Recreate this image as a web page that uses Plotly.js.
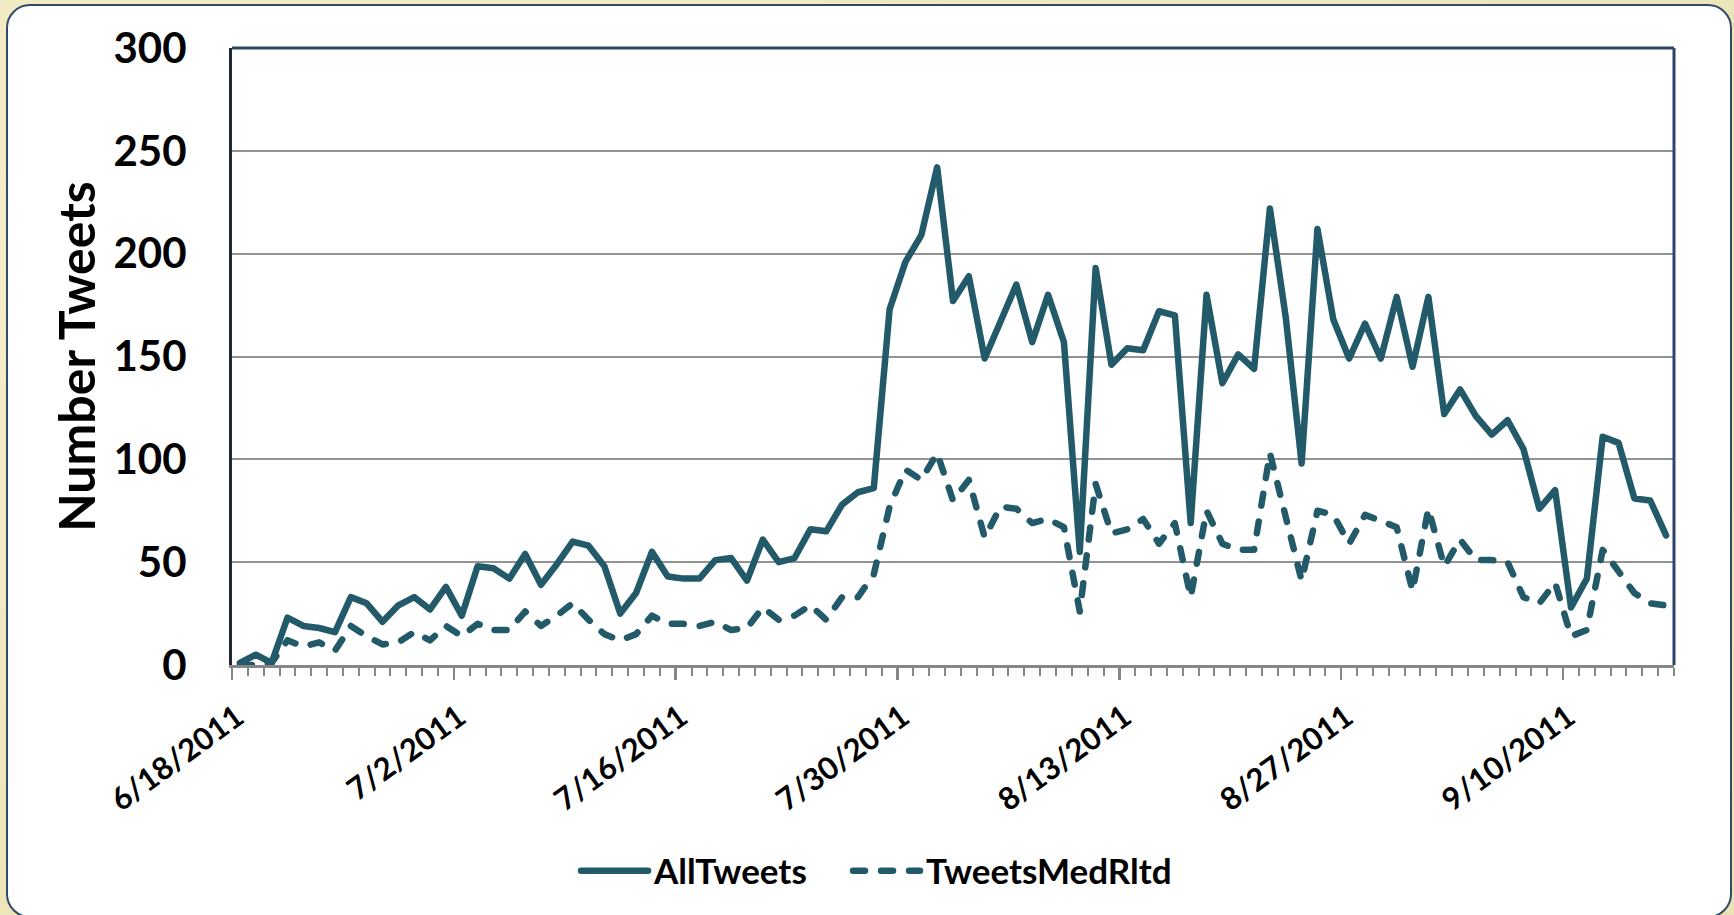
<!DOCTYPE html>
<html>
<head>
<meta charset="utf-8">
<script src="https://cdn.plot.ly/plotly-3.0.1.min.js"></script>
<style>
  html, body { margin: 0; padding: 0; }
  body {
    width: 1734px; height: 915px; overflow: hidden; position: relative;
    background: radial-gradient(ellipse at 20% 30%, #f6f0cc 0%, #efe7bd 55%, #ebe2b6 100%);
  }
  #card {
    position: absolute; left: 6px; top: 4px; width: 1726px; height: 914px;
    box-sizing: border-box; background: #ffffff;
    border: 2.5px solid #2f4a6d; border-radius: 24px;
  }
  #chart { position: absolute; left: 0; top: 0; width: 1734px; height: 915px; }
</style>
</head>
<body>
<div id="card"></div>
<div id="chart"></div>
<script>
// Daily tweet counts, one value per day starting 6/18/2011
const startDate = '2011-06-18';
const endDate = '2011-09-17';

const allTweets = [
  1, 5, 1, 23, 19, 18, 16, 33, 30, 21, 29, 33, 27, 38,
  24, 48, 47, 42, 54, 39, 49, 60, 58, 48, 25, 35, 55, 43,
  42, 42, 51, 52, 41, 61, 50, 52, 66, 65, 78, 84, 86, 173,
  196, 209, 242, 177, 189, 149, 167, 185, 157, 180, 157, 55, 193, 146,
  154, 153, 172, 170, 69, 180, 137, 151, 144, 222, 169, 98, 212, 168,
  149, 166, 149, 179, 145, 179, 122, 134, 121, 112, 119, 105, 76, 85,
  28, 42, 111, 108, 81, 80, 63
];

const tweetsMedRltd = [
  0, 0, 1, 12, 9, 11, 7, 19, 14, 10, 11, 16, 12, 19,
  14, 20, 17, 17, 26, 19, 24, 30, 22, 15, 12, 15, 24, 20,
  20, 19, 21, 17, 18, 28, 22, 24, 29, 22, 33, 33, 44, 77,
  95, 90, 103, 80, 90, 62, 77, 76, 69, 71, 67, 26, 88, 64,
  66, 71, 59, 69, 33, 75, 59, 56, 56, 103, 72, 41, 75, 73,
  59, 73, 70, 67, 36, 76, 48, 61, 51, 51, 50, 33, 30, 40,
  14, 17, 56, 45, 35, 30, 29
];

const seriesNames = ['AllTweets', 'TweetsMedRltd'];
const yTitle = 'Number Tweets';

// one calendar day per value
const DAY = 86400000;
const dates = [];
{
  const t0 = Date.parse(startDate + 'T00:00:00Z');
  for (let i = 0; i < allTweets.length; i++) {
    dates.push(new Date(t0 + i * DAY).toISOString().slice(0, 10));
  }
}

const lineColor = '#235a6a';
const lineWidth = 6.5;
const axisGray = '#868686';
const fontFamily = 'Lato, "Open Sans", sans-serif';

const traces = [
  {
    type: 'scatter', mode: 'lines', name: seriesNames[0],
    x: dates, y: allTweets,
    xperiod: DAY, xperiodalignment: 'middle',
    line: { color: lineColor, width: lineWidth }
  },
  {
    type: 'scatter', mode: 'lines', name: seriesNames[1],
    x: dates, y: tweetsMedRltd,
    xperiod: DAY, xperiodalignment: 'middle',
    line: { color: lineColor, width: lineWidth, dash: '12px,16px' }
  }
];

const layout = {
  width: 1734, height: 915,
  paper_bgcolor: 'rgba(0,0,0,0)',
  plot_bgcolor: '#ffffff',
  margin: { l: 232, r: 60, t: 48, b: 250 },
  font: { family: fontFamily, color: '#000000' },
  showlegend: true,
  legend: {
    orientation: 'h',
    xref: 'container', yref: 'container',
    x: 0.4879, xanchor: 'center',
    y: 0.048, yanchor: 'middle',
    font: { family: fontFamily, size: 35, weight: 700, color: '#000000' },
    itemwidth: 70,
    entrywidth: 187,
    tracegroupgap: 0,
    bgcolor: 'rgba(0,0,0,0)'
  },
  xaxis: {
    type: 'date',
    range: [startDate, endDate],
    tick0: startDate,
    dtick: 14 * DAY,
    tickformat: '%-m/%-d/%Y',
    tickangle: -36,
    ticklabelshift: 5,
    ticklabelstandoff: 7,
    tickfont: { family: fontFamily, size: 31, weight: 700, color: '#000000' },
    ticks: 'outside', ticklen: 12, tickwidth: 2.5, tickcolor: axisGray,
    minor: { dtick: DAY, ticks: 'outside', ticklen: 8, tickwidth: 2, tickcolor: axisGray },
    showline: true, linecolor: axisGray, linewidth: 3,
    showgrid: false, zeroline: false,
    fixedrange: true
  },
  // same date scale again, only to carry the inner half of the major ticks
  xaxis2: {
    type: 'date',
    overlaying: 'x', anchor: 'y', side: 'bottom',
    range: [startDate, endDate],
    tick0: startDate,
    dtick: 14 * DAY,
    ticks: 'inside', ticklen: 12, tickwidth: 2.5, tickcolor: axisGray,
    showticklabels: false, showline: false, showgrid: false, zeroline: false,
    fixedrange: true
  },
  yaxis: {
    range: [0, 300],
    dtick: 50,
    tickfont: { family: fontFamily, size: 42, weight: 700, color: '#000000' },
    ticks: '',
    ticklabelstandoff: 34,
    showline: true, linecolor: '#1e2833', linewidth: 3,
    showgrid: true, gridcolor: '#939393', gridwidth: 2,
    zeroline: false,
    title: { text: yTitle, font: { family: fontFamily, size: 50, weight: 700, color: '#000000' }, standoff: 3 },
    fixedrange: true
  },
  shapes: [
    // top and right edges of the plot frame
    { type: 'line', xref: 'paper', yref: 'paper', x0: 0, x1: 1, y0: 1, y1: 1,
      line: { color: '#2c4468', width: 3 }, layer: 'above' },
    { type: 'line', xref: 'paper', yref: 'paper', x0: 1, x1: 1, y0: 0, y1: 1,
      line: { color: '#2c4468', width: 3 }, layer: 'above' }
  ]
};

Plotly.newPlot('chart', traces, layout, { displayModeBar: false, staticPlot: true }).then(function (gd) {
  // rounded ends on line strokes so dashes look like pills
  gd.querySelectorAll('.js-line').forEach(function (p) {
    p.style.strokeLinecap = 'round';
    p.style.strokeLinejoin = 'round';
  });
  // legend samples: a longer line that stops a little before its label
  gd.querySelectorAll('.legend .traces').forEach(function (item) {
    const label = item.querySelector('text.legendtext');
    const line = item.querySelector('.js-line');
    if (!label || !line) return;
    const tx = parseFloat(label.getAttribute('x')) || 0;
    line.setAttribute('d', 'M' + (tx - 73) + ',0h67');
  });
  // let the last legend label run past the fixed entry width
  gd.querySelectorAll('.legend [clip-path]').forEach(function (el) { el.removeAttribute('clip-path'); });
});
</script>
</body>
</html>
